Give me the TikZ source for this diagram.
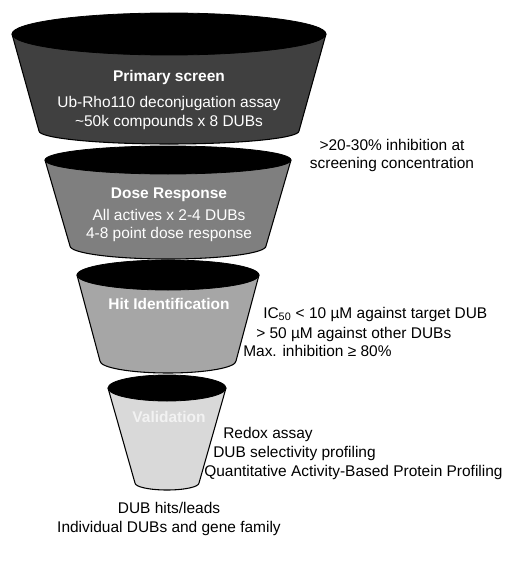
\documentclass[tikz,border=0pt]{standalone}
\usepackage{fontspec}
\setmainfont{Liberation Sans}
\usetikzlibrary{calc}
\definecolor{screenfill}{HTML}{404040}
\definecolor{dosefill}{HTML}{7F7F7F}
\definecolor{hitfill}{HTML}{A6A6A6}
\definecolor{validfill}{HTML}{D9D9D9}
\definecolor{rimfill}{HTML}{000000}
\definecolor{paletext}{HTML}{F2F2F2}
\tikzset{
  body/.style={draw=black, line width=0.8pt, line join=round},
  rim/.style={fill=rimfill, draw=black, line width=0.6pt},
  txt/.style={font=\fontsize{11.6pt}{13.5pt}\selectfont, inner sep=0pt, anchor=base},
  stage/.style={txt, font=\fontsize{11.6pt}{13.5pt}\selectfont\bfseries, text=white},
  inside/.style={txt, text=white},
  crit/.style={txt, anchor=base west},
}
\begin{document}
\begin{tikzpicture}[x=0.75pt, y=-0.75pt]
\useasboundingbox (0,0) rectangle (529,567);

% Funnel stages: centre x / top y / top rx / top ry / bottom y / bottom rx / bottom ry / fill
\foreach \cx/\yt/\rt/\st/\yb/\rb/\sb/\col in {
    169/34/157/21/131/130/13/screenfill,
    168/160/123/14/246/98/13/dosefill,
    168/275/91/15/361/68/12/hitfill,
    167/388/59/13/483/32/7/validfill} {
  \draw[body, fill=\col] (\cx-\rt,\yt) -- (\cx-\rb,\yb)
    arc[start angle=180, end angle=360, x radius=\rb, y radius=-\sb]
    -- (\cx+\rt,\yt) -- cycle;
  \draw[rim] (\cx,\yt) ellipse[x radius=\rt, y radius=\st];
}

% Stage titles
\node[stage] (screen) at (169,81) {Primary screen};
\node[stage] (dose) at (169,198) {Dose Response};
\node[stage] (hit) at (169,309) {Hit Identification};
\node[stage, text=paletext] (valid) at (169,422) {Validation};

% Stage contents
\node[inside] (screen1) at (169,108) {Ub-Rho110 deconjugation assay};
\node[inside] (screen2) at (169,126) {\textasciitilde 50k compounds x 8 DUBs};
\node[inside] (dose1) at (169,220) {All actives x 2-4 DUBs};
\node[inside] (dose2) at (169,238) {4-8 point dose response};

% Selection criteria
\node[txt] (cut1) at (392,150) {>20-30\% inhibition at};
\node[txt] (cut2) at (392,168) {screening concentration};
\node[crit] (hitc1) at (263,318) {IC\textsubscript{50} < 10 µM against target DUB};
\node[crit] (hitc2) at (256,338) {> 50 µM against other DUBs};
\node[crit] (hitc3) at (243,356) {Max. inhibition ≥ 80\%};
\node[crit] (valc1) at (223,438) {Redox assay};
\node[crit] (valc2) at (213,457) {DUB selectivity profiling};
\node[crit] (valc3) at (204,476) {Quantitative Activity-Based Protein Profiling};

% Output
\node[txt] (leads1) at (169,513) {DUB hits/leads};
\node[txt] (leads2) at (169,532) {Individual DUBs and gene family};

\end{tikzpicture}
\end{document}
